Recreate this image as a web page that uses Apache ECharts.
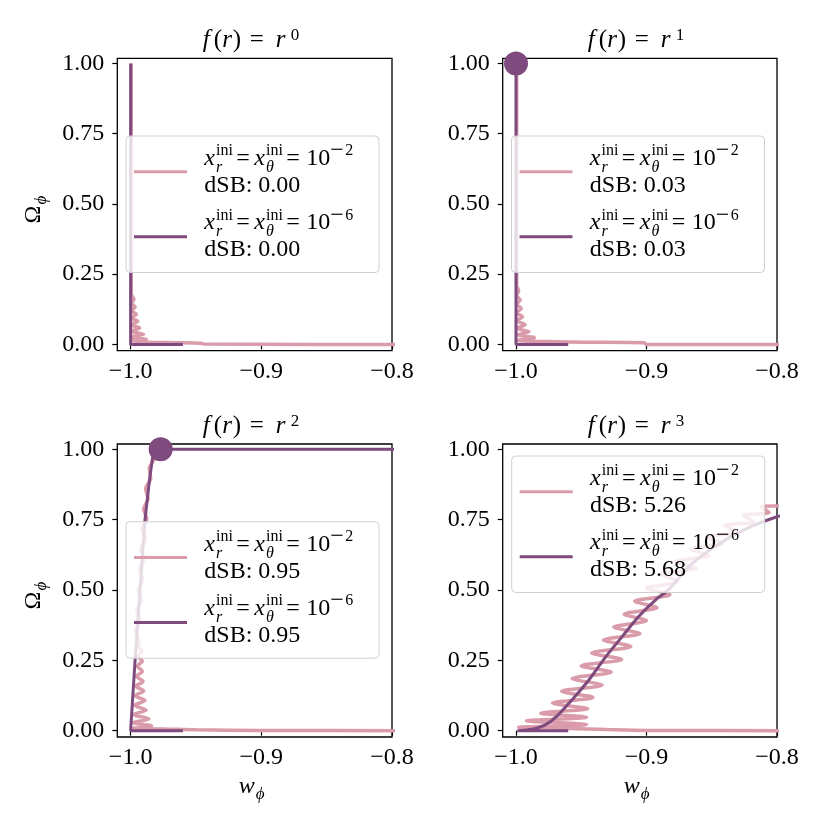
<!DOCTYPE html>
<html>
<head>
<meta charset="utf-8" />
<title></title>
<script type="text/javascript" src="https://cdn.jsdelivr.net/npm/echarts@6/dist/echarts.min.js"></script>
<style>html,body{margin:0;padding:0;background:#fff;}</style>
</head>
<body>
<div id="main" style="width: 830px;height: 830px;"></div>
<script type="text/javascript">
var PINK = '#da9caa', PURPLE = '#7f4a7d';
var FONT = '"Liberation Serif", "DejaVu Serif", serif';

// tick labels
var xTicks = [-1.0, -0.9, -0.8];
var yTicks = [0, 0.25, 0.5, 0.75, 1.0];

// panel titles f(r) = r^n and legend values
var powers = ['0', '1', '2', '3'];
var legendExps = ['2', '6'];
var dsbHigh = ['0.00', '0.03', '0.95', '5.26'];
var dsbLow = ['0.00', '0.03', '0.95', '5.68'];

// trajectories [w_phi, Omega_phi]
var pinkR0 = [[-0.78,0.0],[-0.86,0.0],[-0.944,0.001],[-0.946,0.004],[-0.965,0.006],[-0.987,0.008],[-0.999,0.012],
  [-0.988,0.018],[-0.9995,0.026],[-0.990,0.036],[-0.9995,0.047],[-0.993,0.058],[-0.9995,0.07],[-0.9945,0.082],
  [-0.9995,0.094],[-0.9955,0.107],[-0.9995,0.12],[-0.9965,0.133],[-0.9995,0.146],[-0.9975,0.16],[-0.9995,0.18],[-0.9995,1.0]];
var purpleR0 = [[-0.96,0.0],[-1.0,0.0],[-1.0,1.0]];

var pinkR1 = [[-0.78,0.0],[-0.90,0.0],[-0.902,0.006],[-0.95,0.008],[-0.985,0.011],[-0.999,0.014],[-0.986,0.024],
  [-0.999,0.034],[-0.990,0.045],[-0.9995,0.057],[-0.993,0.07],[-0.9995,0.084],[-0.995,0.098],[-0.9995,0.113],
  [-0.996,0.128],[-0.9995,0.143],[-0.9968,0.158],[-0.9995,0.175],[-0.998,0.19],[-0.9995,0.21],[-0.9995,1.0]];
var purpleR1 = [[-0.96,0.0],[-1.0,0.0],[-1.0,1.0]];

var pinkR2 = [[-0.78,0.0],[-0.90,0.001],[-0.95,0.003],[-0.975,0.006],[-0.998,0.008],
  [-0.984,0.017],[-0.998,0.028],[-0.986,0.042],[-0.9975,0.057],[-0.988,0.073],[-0.997,0.09],[-0.989,0.107],
  [-0.9965,0.124],[-0.990,0.141],[-0.996,0.158],[-0.9905,0.175],[-0.9955,0.193],[-0.991,0.211],[-0.995,0.229],
  [-0.991,0.247],[-0.9945,0.265],[-0.9912,0.283],[-0.9942,0.301],[-0.9939,0.32],[-0.9963,0.356],[-0.9928,0.392],
  [-0.9953,0.428],[-0.9918,0.464],[-0.9943,0.50],[-0.9907,0.536],[-0.9932,0.572],[-0.9897,0.608],[-0.9922,0.644],
  [-0.9886,0.68],[-0.9911,0.716],[-0.9876,0.752],[-0.9901,0.788],[-0.9866,0.824],[-0.9885,0.86],[-0.9846,0.896],
  [-0.9857,0.932],[-0.9820,0.968],[-0.982,1.0]];
var purpleR2 = [[-0.96,0.0],[-1.0,0.0],[-0.9966,0.25],[-0.9928,0.5],[-0.989,0.75],[-0.9856,0.89],[-0.9832,0.97],
  [-0.9815,0.995],[-0.978,1.0],[-0.78,1.0]];

var pinkR3 = [[-0.78,0.0],[-0.90,0.001],[-0.93,0.004],[-0.96,0.008],[-0.998,0.012],[-0.946,0.022],[-0.992,0.035],
  [-0.946,0.048],[-0.981,0.062],[-0.945,0.078],[-0.972,0.098],[-0.941,0.118],[-0.965,0.140],[-0.934,0.162],
  [-0.957,0.185],[-0.927,0.208],[-0.950,0.230],[-0.919,0.253],[-0.942,0.276],[-0.912,0.299],[-0.933,0.322],
  [-0.905,0.345],[-0.925,0.368],[-0.900,0.391],[-0.917,0.414],[-0.892,0.437],[-0.909,0.460],[-0.882,0.483],
  [-0.900,0.506],[-0.876,0.530],[-0.888,0.555],[-0.862,0.578],[-0.878,0.600],[-0.852,0.622],[-0.866,0.645],
  [-0.842,0.665],[-0.854,0.688],[-0.830,0.705],[-0.840,0.728],[-0.818,0.742],[-0.826,0.765],[-0.806,0.775],
  [-0.812,0.795],[-0.795,0.800],[-0.78,0.82]];
var purpleR3 = [[-0.96,0.0],[-0.999,0.0],[-0.989,0.004],[-0.978,0.02],[-0.969,0.05],[-0.957,0.11],[-0.944,0.181],
  [-0.931,0.264],[-0.9185,0.335],[-0.906,0.406],[-0.893,0.465],[-0.883,0.501],[-0.866,0.59],[-0.843,0.668],
  [-0.820,0.725],[-0.800,0.76],[-0.78,0.79]];

var pinkData = [pinkR0, pinkR1, pinkR2, pinkR3];
var purpleData = [purpleR0, purpleR1, purpleR2, purpleR3];
var endDots = [[], [[-1.0, 1.0]], [[-0.977, 1.0]], []];

var panels = [
  {left: 117.3, top: 58.3, width: 274.7, height: 292.4, box: [126, 136]},
  {left: 502.7, top: 58.3, width: 274.3, height: 292.4, box: [511.5, 136]},
  {left: 117.3, top: 444, width: 274.7, height: 293, box: [126, 521.7]},
  {left: 502.7, top: 444, width: 274.3, height: 293, box: [511.7, 456]}
];

function piece(x, base, s, size, italic) {
  return {type: 'text', x: x, y: base - 0.34 * size, z: 110, silent: true,
    style: {text: s, font: (italic ? 'italic ' : '') + size + 'px ' + FONT, fill: '#000',
      textAlign: 'left', textVerticalAlign: 'middle', align: 'left', verticalAlign: 'middle'}};
}

function legendEntry(x0, b, exp, dsb) {
  return [
    piece(x0, b, 'x', 24, true),
    piece(x0 + 11.7, b - 10, 'ini', 16, false),
    piece(x0 + 11.7, b + 6.5, 'r', 16, true),
    piece(x0 + 32, b, '=', 24, false),
    piece(x0 + 50, b, 'x', 24, true),
    piece(x0 + 61.7, b - 10, 'ini', 16, false),
    piece(x0 + 61.7, b + 6.5, 'θ', 16, true),
    piece(x0 + 82, b, '=', 24, false),
    piece(x0 + 102, b, '10', 24, false),
    piece(x0 + 126, b - 7.5, '−', 24, false),
    piece(x0 + 141, b - 10, exp, 16, false),
    piece(x0, b + 27.3, 'dSB: ' + dsb, 24, false)
  ];
}

var grids = [], xAxes = [], yAxes = [], series = [], graphics = [];
panels.forEach(function (p, i) {
  grids.push({left: p.left, top: p.top, width: p.width, height: p.height, show: true,
    borderColor: '#000', borderWidth: 1.3, backgroundColor: 'transparent'});
  xAxes.push({type: 'value', gridIndex: i, min: -1.0102, max: -0.8,
    axisLine: {show: false},
    axisTick: {show: true, customValues: xTicks, length: 5, lineStyle: {color: '#000', width: 1.2}},
    axisLabel: {customValues: xTicks, margin: 9, color: '#000', fontFamily: FONT, fontSize: 24,
      formatter: function (v) { return (v < 0 ? '−' : '') + Math.abs(v).toFixed(1); }},
    splitLine: {show: false}});
  yAxes.push({type: 'value', gridIndex: i, min: -0.0225, max: 1.0185,
    axisLine: {show: false},
    axisTick: {show: true, customValues: yTicks, length: 5, lineStyle: {color: '#000', width: 1.2}},
    axisLabel: {customValues: yTicks, margin: 13, color: '#000', fontFamily: FONT, fontSize: 24,
      formatter: function (v) { return v.toFixed(2); }},
    splitLine: {show: false}});

  series.push({type: 'line', xAxisIndex: i, yAxisIndex: i, data: pinkData[i], symbol: 'none',
    smooth: 0.3, lineStyle: {color: PINK, width: 3.5}, z: 2});
  series.push({type: 'line', xAxisIndex: i, yAxisIndex: i, data: purpleData[i], symbol: 'none',
    smooth: i === 3 ? 0.3 : false, lineStyle: {color: PURPLE, width: 3}, z: 3});
  series.push({type: 'scatter', xAxisIndex: i, yAxisIndex: i, data: endDots[i], symbolSize: 24,
    itemStyle: {color: PURPLE, opacity: 1}, z: 4});

  // title f(r) = r^n
  var cx = p.left + p.width / 2, tb = p.top - 9;
  graphics.push(piece(cx - 52, tb, 'f', 25, true), piece(cx - 41, tb, '(', 25, false),
    piece(cx - 32.5, tb, 'r', 25, true), piece(cx - 22, tb, ')', 25, false),
    piece(cx - 5, tb, '=', 25, false), piece(cx + 21, tb, 'r', 25, true),
    piece(cx + 36, tb - 8, powers[i], 17, false));

  // legend box
  var bx = p.box[0], by = p.box[1];
  graphics.push({type: 'rect', z: 100, silent: true, shape: {x: bx, y: by, width: 253, height: 136.5, r: 4},
    style: {fill: 'rgba(255,255,255,0.8)', stroke: '#d0d0d0', lineWidth: 1}});
  graphics.push({type: 'line', z: 105, silent: true, shape: {x1: bx + 8, y1: by + 35.7, x2: bx + 61, y2: by + 35.7},
    style: {stroke: PINK, lineWidth: 3}});
  graphics.push({type: 'line', z: 105, silent: true, shape: {x1: bx + 8, y1: by + 100.7, x2: bx + 61, y2: by + 100.7},
    style: {stroke: PURPLE, lineWidth: 3}});
  graphics = graphics.concat(legendEntry(bx + 78.3, by + 30.7, legendExps[0], dsbHigh[i]));
  graphics = graphics.concat(legendEntry(bx + 78.3, by + 95, legendExps[1], dsbLow[i]));

  // axis labels
  if (i % 2 === 0) {
    var yc = p.top + p.height / 2;
    graphics.push({type: 'group', x: 42, y: yc, rotation: Math.PI / 2, z: 110,
      children: [piece(-19, 0, 'Ω', 24, false), piece(0, 5, 'ϕ', 17, true)]});
  }
  if (i >= 2) {
    graphics.push(piece(cx - 16, 795, 'w', 24, true), piece(cx + 1, 800, 'ϕ', 17, true));
  }
});

var myChart = echarts.init(document.getElementById('main'));
var option = {
  animation: false,
  backgroundColor: '#fff',
  grid: grids,
  xAxis: xAxes,
  yAxis: yAxes,
  series: series,
  graphic: graphics
};
myChart.setOption(option);
</script>
</body>
</html>
